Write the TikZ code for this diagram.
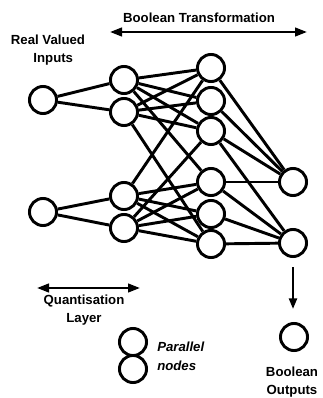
\documentclass[tikz,border=0pt]{standalone}
\usepackage{fontspec}
\setmainfont{Liberation Sans}
\usetikzlibrary{arrows.meta}
\begin{document}
\begin{tikzpicture}[x=0.75pt,y=-0.75pt,
  neuron/.style={circle,draw,line width=2.2pt,minimum size=20.3pt,inner sep=0pt,fill=white},
  conn/.style={line width=2.2pt},
  lbl/.style={font=\fontsize{9.9}{10}\selectfont\bfseries,align=center,inner sep=0pt},
  dblarrow/.style={line width=1.7pt,{Triangle[length=9pt,width=6.5pt]}-{Triangle[length=9pt,width=6.5pt]}},
  downarrow/.style={line width=1.7pt,-{Triangle[length=8pt,width=6pt]}}]
\useasboundingbox (0,0) rectangle (323,398);
% input nodes
\node[neuron] (i1) at (43,100) {};
\node[neuron] (i2) at (43,212) {};
% quantisation layer
\node[neuron] (a1) at (124,80) {};
\node[neuron] (a2) at (124,112) {};
\node[neuron] (b1) at (124,196) {};
\node[neuron] (b2) at (124,228) {};
% boolean layer
\node[neuron] (c1) at (211,68) {};
\node[neuron] (c2) at (211,101) {};
\node[neuron] (c3) at (211,131) {};
\node[neuron] (c4) at (211,182) {};
\node[neuron] (c5) at (211,214) {};
\node[neuron] (c6) at (211,244) {};
% outputs
\node[neuron] (o1) at (293,182) {};
\node[neuron] (o2) at (293,243) {};
% connections
\draw[conn] (i1) -- (a1) (i1) -- (a2) (i2) -- (b1) (i2) -- (b2);
\foreach \s in {a1,a2}{\foreach \t in {c1,c2,c3}{\draw[conn] (\s) -- (\t);}}
\foreach \s in {b1,b2}{\foreach \t in {c4,c5,c6}{\draw[conn] (\s) -- (\t);}}
\draw[conn] (a1) -- (c4) (a2) -- (c6) (b1) -- (c1) (b2) -- (c3);
\foreach \s in {c1,c2,c3,c4}{\draw[conn] (\s) -- (o1);}
\foreach \s in {c3,c4,c5,c6}{\draw[conn] (\s) -- (o2);}
% top labels
\node[lbl] (tt) at (199,18) {Boolean Transformation};
\coordinate (tl) at (110,32);
\coordinate (tr) at (307,32);
\draw[dblarrow] (tl) -- (tr);
\node[lbl,font=\fontsize{9.9}{13.5}\selectfont\bfseries] (rv) at (48,50) {Real Valued\\\hspace*{0.8em}Inputs};
% quantisation legend
\coordinate (ql) at (37,288);
\coordinate (qr) at (140,288);
\draw[dblarrow] (ql) -- (qr);
\node[lbl,font=\fontsize{9.9}{13}\selectfont\bfseries] (ql2) at (84,310) {Quantisation\\Layer};
% parallel nodes legend
\node[neuron] (p1) at (133,342) {};
\node[neuron] (p2) at (133,369) {};
\node[lbl,align=left,anchor=west,font=\fontsize{9.9}{14}\selectfont\bfseries\itshape] (pl) at (157,356) {Parallel\\nodes};
% output legend
\coordinate (dt) at (293,267);
\coordinate (db) at (293,309);
\draw[downarrow] (dt) -- (db);
\node[neuron] (ol) at (294,337) {};
\node[lbl,font=\fontsize{9.9}{13}\selectfont\bfseries] (bo) at (292,382) {Boolean\\Outputs};
\end{tikzpicture}
\end{document}
